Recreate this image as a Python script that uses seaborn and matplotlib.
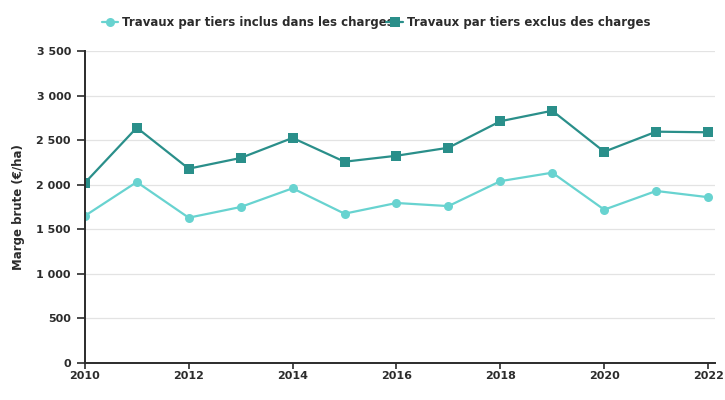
import numpy as np
import pandas as pd
import matplotlib
matplotlib.use("Agg")
import matplotlib.pyplot as plt
from matplotlib.ticker import FuncFormatter, MultipleLocator
import seaborn as sns

# ── Données ──────────────────────────────────────────────
annees = [2010, 2011, 2012, 2013, 2014, 2015, 2016, 2017, 2018, 2019, 2020, 2021, 2022]
inclus = [1650, 2030, 1630, 1750, 1960, 1675, 1795, 1760, 2040, 2135, 1720, 1930, 1860]
exclus = [2020, 2640, 2180, 2300, 2525, 2258, 2325, 2415, 2712, 2830, 2370, 2595, 2588]

LAB_INC = "Travaux par tiers inclus dans les charges"
LAB_EXC = "Travaux par tiers exclus des charges"
CLAIR = "#68d3d0"
FONCE = "#2a8f8a"
TXT = "#2b2b2b"

df = pd.DataFrame({
    "Annee": annees * 2,
    "Marge": inclus + exclus,
    "Serie": [LAB_INC] * len(annees) + [LAB_EXC] * len(annees),
})

sns.set_style("white")
plt.rcParams["font.family"] = ["DejaVu Sans"]

fig = plt.figure(figsize=(7.25, 4), dpi=100)
ax = fig.add_axes([0.117, 0.0925, 0.869, 0.78])

sns.lineplot(data=df, x="Annee", y="Marge", hue="Serie", style="Serie",
             markers={LAB_INC: "o", LAB_EXC: "s"}, dashes=False,
             palette={LAB_INC: CLAIR, LAB_EXC: FONCE},
             markersize=6.5, markeredgewidth=0, linewidth=1.6, ax=ax)

ax.set_xlim(2010, 2022.13)
ax.set_ylim(0, 3500)
ax.xaxis.set_major_locator(MultipleLocator(2))
ax.yaxis.set_major_locator(MultipleLocator(500))
ax.yaxis.set_major_formatter(FuncFormatter(lambda v, p: f"{int(v):,}".replace(",", " ")))
ax.grid(axis="y", color="#e3e3e3", linewidth=0.9)
ax.set_axisbelow(True)

for s in ["top", "right"]:
    ax.spines[s].set_visible(False)
for s in ["left", "bottom"]:
    ax.spines[s].set_color(TXT)
    ax.spines[s].set_linewidth(1.4)

ax.tick_params(axis="y", left=True, length=6, width=1.2, color=TXT, pad=4)
ax.tick_params(axis="x", bottom=True, length=4, width=1.2, color=TXT, pad=2)
for lab in ax.get_xticklabels() + ax.get_yticklabels():
    lab.set_fontweight("bold")
    lab.set_fontsize(8)
    lab.set_color(TXT)

ax.set_xlabel("")
ax.set_ylabel("Marge brute (€/ha)", fontsize=8.5, fontweight="bold", color=TXT, labelpad=8)

leg = ax.legend(loc="center", bbox_to_anchor=(0.462, 1.09), ncol=2, frameon=False,
                handlelength=1.4, handletextpad=0.3, columnspacing=-0.6,
                prop={"weight": "bold", "size": 8.5})
for t in leg.get_texts():
    t.set_color(TXT)

fig.savefig("out.png", dpi=100)
